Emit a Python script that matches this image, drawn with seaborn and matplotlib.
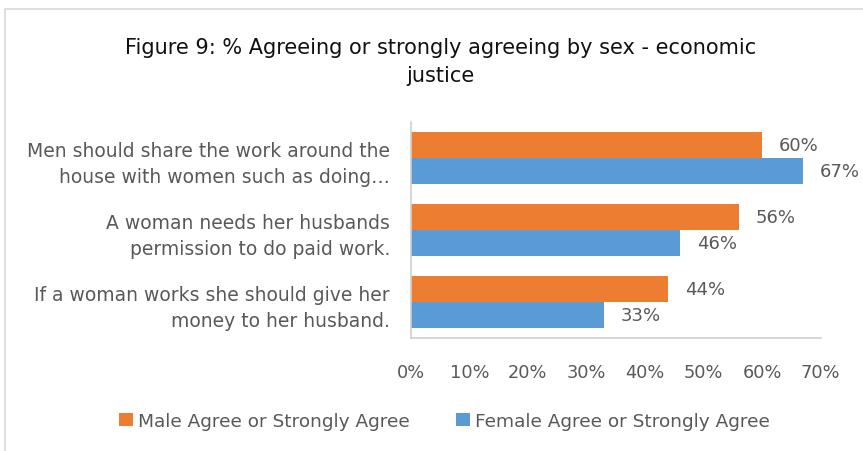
import pandas as pd
import matplotlib
matplotlib.use("Agg")
import matplotlib.pyplot as plt
import seaborn as sns
from matplotlib.patches import Rectangle
from matplotlib.ticker import PercentFormatter

# chart data
statements = [
    "Men should share the work around the\nhouse with women such as doing\u2026",
    "A woman needs her husbands\npermission to do paid work.",
    "If a woman works she should give her\nmoney to her husband.",
]
series = ["Male Agree or Strongly Agree", "Female Agree or Strongly Agree"]
male_pct = [60, 56, 44]
female_pct = [67, 46, 33]
x_ticks = [0, 10, 20, 30, 40, 50, 60, 70]

colors = ["#ED7D31", "#5B9BD5"]
text_grey = "#595959"

df = pd.DataFrame({
    "statement": statements * 2,
    "group": [series[0]] * 3 + [series[1]] * 3,
    "pct": male_pct + female_pct,
})

sns.set_style("white")
plt.rcParams["font.family"] = ["DejaVu Sans"]

fig = plt.figure(figsize=(8.63, 4.52), dpi=100)
ax = fig.add_axes([0.476, 0.25, 0.475, 0.478])

sns.barplot(data=df, y="statement", x="pct", hue="group", palette=colors,
            orient="h", width=0.73, saturation=1, linewidth=0, ax=ax, legend=True)

for cont in ax.containers:
    ax.bar_label(cont, fmt="%d%%", padding=12, fontsize=13, color=text_grey)

ax.set_xlim(0, 70)
ax.set_xticks(x_ticks)
ax.xaxis.set_major_formatter(PercentFormatter(decimals=0))
ax.set_ylim(2.5, -0.5)
ax.set_xlabel("")
ax.set_ylabel("")
ax.tick_params(axis="x", length=0, pad=18, labelsize=12.8, labelcolor=text_grey)
ax.tick_params(axis="y", length=0, pad=15, labelsize=13.5, labelcolor=text_grey)
for lbl in ax.get_yticklabels():
    lbl.set_horizontalalignment("right")
    lbl.set_multialignment("right")
    lbl.set_linespacing(1.45)

for side in ["top", "right"]:
    ax.spines[side].set_visible(False)
for side in ["left", "bottom"]:
    ax.spines[side].set_color("#D0D0D0")
    ax.spines[side].set_linewidth(1.2)

handles, labels = ax.get_legend_handles_labels()
ax.legend_.remove()
fig.legend(handles, labels, loc="center", bbox_to_anchor=(0.515, 0.066),
           ncol=2, frameon=False, fontsize=13.3, labelcolor=text_grey,
           handlelength=0.75, handleheight=0.75, handletextpad=0.3,
           columnspacing=2.5)

fig.text(0.51, 0.863, "Figure 9: % Agreeing or strongly agreeing by sex - economic\njustice",
         ha="center", va="center", fontsize=15, color="#111111", linespacing=1.45)

# chart area border
fig.patches.append(Rectangle((0.006, -0.1), 1.2, 1.078, transform=fig.transFigure,
                             fill=False, edgecolor="#D9D9D9", linewidth=1.2))

fig.savefig("out.png", dpi=100)
